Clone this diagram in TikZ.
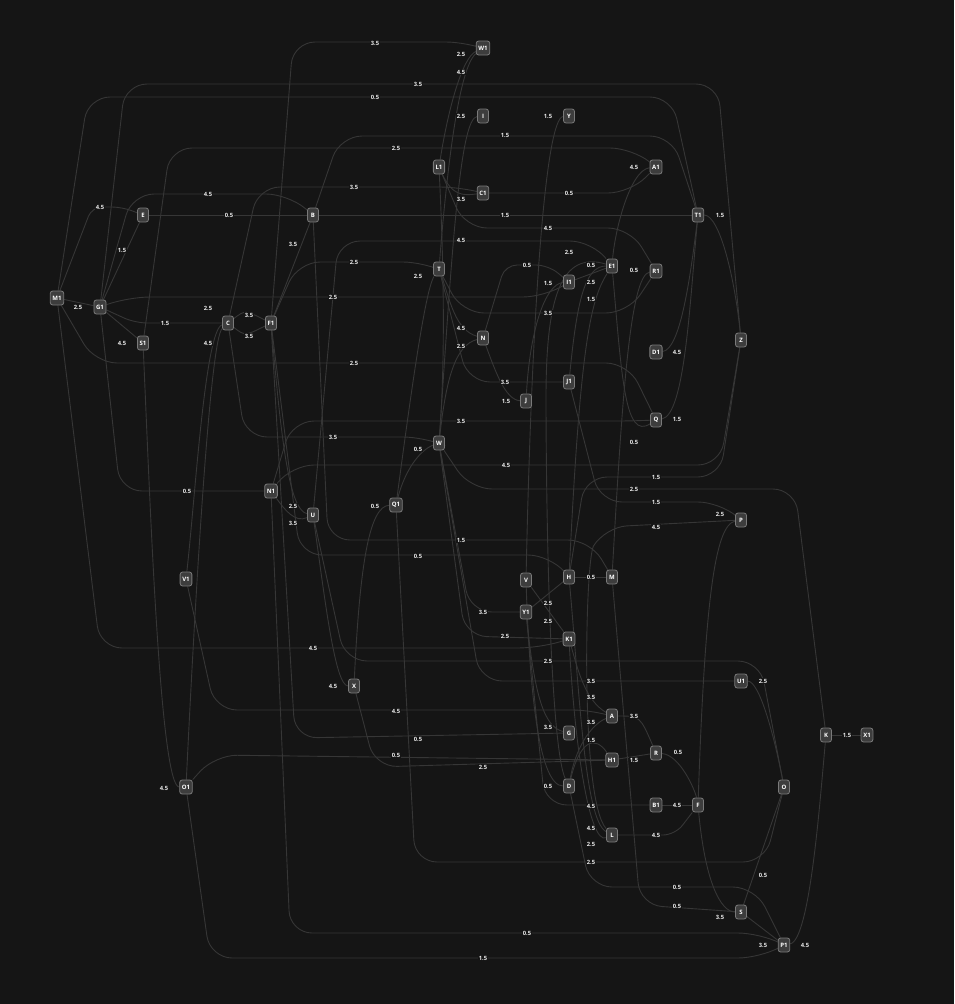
\documentclass[tikz,border=0pt]{standalone}
\usepackage{fontspec}
\setmainfont{Open Sans}
\setsansfont{Open Sans}
\definecolor{bgc}{HTML}{151515}
\definecolor{edc}{HTML}{363636}
\definecolor{ndf}{HTML}{3D3D3D}
\definecolor{ndb}{HTML}{7A7A7A}
\definecolor{lbt}{HTML}{ECECEC}
\pgfdeclarelayer{backfill}
\pgfdeclarelayer{edgelayer}
\pgfsetlayers{backfill,edgelayer,main}
\newcounter{lbc}
\newcommand\lbl[2]{\stepcounter{lbc}\node[lb] (lb\arabic{lbc}) at (#1) {#2};}
\tikzset{
  nd/.style={draw=ndb, fill=ndf, rounded corners=2.5pt, line width=0.8pt, text=white,
    font=\sffamily\bfseries\fontsize{6}{6}\selectfont, minimum height=14pt, minimum width=11pt,
    inner xsep=2.2pt, inner ysep=1pt},
  ed/.style={draw=edc, line width=0.9pt, rounded corners=22pt},
  lb/.style={text=lbt, font=\sffamily\bfseries\fontsize{5.8}{6}\selectfont, fill=bgc, inner sep=0.5pt},
}
\begin{document}
\begin{tikzpicture}[x=1pt,y=-1pt]
\begin{pgfonlayer}{backfill}
\fill[bgc] (0,0) rectangle (954,1004);
\end{pgfonlayer}
\useasboundingbox (0,0) rectangle (954,1004);
% nodes
\node[nd] (M1) at (57,298) {M1};
\node[nd] (G1) at (100,307) {G1};
\node[nd] (E) at (143,215) {E};
\node[nd] (S1) at (143,343) {S1};
\node[nd] (C) at (228,323) {C};
\node[nd] (F1) at (271,323) {F1};
\node[nd] (B) at (313,215) {B};
\node[nd] (W1) at (483,48) {W1};
\node[nd] (I) at (483,116) {I};
\node[nd] (Y) at (569,116) {Y};
\node[nd] (L1) at (439,167) {L1};
\node[nd] (C1) at (483,193) {C1};
\node[nd] (A1) at (656,167) {A1};
\node[nd] (T1) at (698,215) {T1};
\node[nd] (T) at (439,269) {T};
\node[nd] (E1) at (612,266) {E1};
\node[nd] (R1) at (656,271) {R1};
\node[nd] (I1) at (569,282) {I1};
\node[nd] (N) at (483,338) {N};
\node[nd] (D1) at (656,352) {D1};
\node[nd] (Z) at (741,340) {Z};
\node[nd] (J1) at (569,382) {J1};
\node[nd] (J) at (526,401) {J};
\node[nd] (Q) at (656,420) {Q};
\node[nd] (W) at (439,443) {W};
\node[nd] (N1) at (271,491) {N1};
\node[nd] (U) at (313,515) {U};
\node[nd] (Q1) at (396,505) {Q1};
\node[nd] (P) at (741,520) {P};
\node[nd] (V1) at (186,579) {V1};
\node[nd] (V) at (526,580) {V};
\node[nd] (H) at (569,577) {H};
\node[nd] (M) at (612,577) {M};
\node[nd] (Y1) at (526,612) {Y1};
\node[nd] (K1) at (569,639) {K1};
\node[nd] (X) at (354,686) {X};
\node[nd] (U1) at (741,681) {U1};
\node[nd] (A) at (612,716) {A};
\node[nd] (G) at (569,733) {G};
\node[nd] (R) at (656,753) {R};
\node[nd] (H1) at (612,760) {H1};
\node[nd] (K) at (826,735) {K};
\node[nd] (X1) at (867,735) {X1};
\node[nd] (O1) at (186,787) {O1};
\node[nd] (D) at (569,786) {D};
\node[nd] (O) at (784,787) {O};
\node[nd] (B1) at (656,805) {B1};
\node[nd] (F) at (698,805) {F};
\node[nd] (L) at (612,835) {L};
\node[nd] (S) at (741,912) {S};
\node[nd] (P1) at (784,945) {P1};
% edges
\begin{pgfonlayer}{edgelayer}
\draw[ed] (F1) -- (293,42) -- (468,42) -- (W1);
\draw[ed] (W1) .. controls (462,58) and (448,110) .. (L1);
\draw[ed] (W1) .. controls (458,68) and (446,180) .. (T);
\draw[ed] (G1) -- (125,84) -- (718,84) -- (Z);
\draw[ed] (M1) -- (88,97) -- (672,97) -- (T1);
\draw[ed] (I) .. controls (460,118) and (452,250) .. (W);
\draw[ed] (Y) .. controls (546,118) and (532,300) .. (V);
\draw[ed] (B) -- (340,136) -- (672,136) -- (T1);
\draw[ed] (S1) -- (170,148) -- (632,148) -- (A1);
\draw[ed] (C) -- (258,187) -- (462,187) -- (C1);
\draw[ed] (G1) -- (132,194) -- (288,194) -- (B);
\draw[ed] (E) -- (B);
\draw[ed] (B) -- (T1);
\draw[ed, rounded corners=10pt] (M1) -- (92,207) -- (122,207) -- (E);
\draw[ed] (G1) -- (E);
\draw[ed] (L1) .. controls (452,195) and (462,196) .. (C1);
\draw[ed] (L1) -- (465,228) -- (630,228) -- (R1);
\draw[ed] (C1) -- (630,193) -- (A1);
\draw[ed] (U) -- (338,241) -- (592,241) -- (E1);
\draw[ed] (F1) -- (298,262) -- (425,262) -- (T);
\draw[ed] (F1) -- (B);
\draw[ed, rounded corners=12pt] (N) -- (505,265) -- (548,265) -- (I1);
\draw[ed] (E1) .. controls (560,250) and (546,300) .. (546,420) .. controls (548,650) and (556,760) .. (D);
\draw[ed] (I1) -- (E1);
\draw[ed] (J1) .. controls (577,300) and (585,266) .. (E1);
\draw[ed] (E1) .. controls (590,300) and (580,350) .. (H);
\draw[ed] (I1) .. controls (545,284) and (530,330) .. (J);
\draw[ed] (G1) -- (128,297) -- (545,297) -- (I1);
\draw[ed] (T) -- (462,313) -- (628,313) -- (R1);
\draw[ed] (T) .. controls (450,300) and (455,330) .. (N);
\draw[ed] (N) .. controls (455,345) and (446,380) .. (W);
\draw[ed] (N) .. controls (495,370) and (505,400) .. (J);
\draw[ed] (T) -- (468,382) -- (J1);
\draw[ed] (T) .. controls (425,290) and (410,400) .. (Q1);
\draw[ed] (L1) .. controls (443,250) and (446,350) .. (W);
\draw[ed] (M1) -- (95,363) -- (628,363) -- (Q);
\draw[ed] (M1) -- (100,648) -- (540,648) -- (K1);
\draw[ed] (T1) .. controls (720,215) and (735,280) .. (Z);
\draw[ed] (T1) .. controls (690,280) and (680,350) .. (D1);
\draw[ed] (T1) .. controls (690,300) and (685,415) .. (Q);
\draw[ed] (E1) .. controls (622,380) and (625,440) .. (Q);
\draw[ed] (R1) .. controls (630,275) and (622,400) .. (M);
\draw[ed] (A1) .. controls (630,170) and (615,230) .. (E1);
\draw[ed] (J1) -- (600,502) -- (720,502) -- (P);
\draw[ed] (H) -- (585,477) -- (720,477) -- (Z);
\draw[ed] (W) -- (470,489) -- (795,489) -- (K);
\draw[ed] (N1) -- (292,465) -- (720,465) -- (Z);
\draw[ed] (N1) -- (292,421) -- (640,421) -- (Q);
\draw[ed] (C) -- (245,437) -- (425,437) -- (W);
\draw[ed] (G1) -- (120,491) -- (N1);
\draw[ed] (Q1) .. controls (405,470) and (420,450) .. (W);
\draw[ed] (X) .. controls (360,560) and (370,506) .. (Q1);
\draw[ed] (F1) .. controls (282,450) and (290,510) .. (U);
\draw[ed] (N1) .. controls (285,510) and (295,523) .. (U);
\draw[ed] (B) -- (328,540) -- (590,540) -- (M);
\draw[ed] (F1) -- (300,555) -- (550,555) -- (H);
\draw[ed] (P) .. controls (715,525) and (705,600) .. (F);
\draw[ed] (H) -- (M);
\draw[ed] (H) -- (Y1);
\draw[ed] (V) -- (K1);
\draw[ed] (W) -- (470,612) -- (Y1);
\draw[ed] (W) -- (465,636) -- (K1);
\draw[ed] (U) -- (345,661) -- (760,661) -- (O);
\draw[ed] (W) -- (480,681) -- (U1);
\draw[ed] (U) .. controls (325,600) and (335,686) .. (X);
\draw[ed] (U1) .. controls (760,681) and (775,740) .. (O);
\draw[ed] (V1) -- (215,710) -- (595,710) -- (A);
\draw[ed] (A) .. controls (640,716) .. (R);
\draw[ed] (F1) -- (295,738) -- (G);
\draw[ed] (C) .. controls (205,330) and (195,500) .. (V1);
\draw[ed] (C) .. controls (210,340) and (195,600) .. (O1);
\draw[ed] (S1) .. controls (150,500) and (160,787) .. (O1);
\draw[ed] (O1) -- (215,755) -- (H1);
\draw[ed] (X) -- (375,767) -- (H1);
\draw[ed] (R) -- (H1);
\draw[ed] (R) .. controls (680,755) and (695,790) .. (F);
\draw[ed] (K) -- (X1);
\draw[ed] (B1) -- (F);
\draw[ed] (Y1) -- (545,805) -- (B1);
\draw[ed, rounded corners=12pt] (L) -- (675,835) -- (F);
\draw[ed] (Q1) -- (415,862) -- (765,862) -- (O);
\draw[ed] (D) -- (590,887) -- (755,887) -- (P1);
\draw[ed] (M) -- (640,905) -- (S);
\draw[ed] (F) .. controls (705,880) and (720,912) .. (S);
\draw[ed] (S) -- (O);
\draw[ed] (S) -- (P1);
\draw[ed] (N1) -- (290,933) -- (760,933) -- (P1);
\draw[ed] (O1) -- (210,958) -- (760,958) -- (P1);
\draw[ed] (P1) .. controls (810,940) and (820,800) .. (K);
\draw[ed] (G1) -- (S1);
\draw[ed] (M1) -- (G1);
\draw[ed, rounded corners=12pt] (G1) -- (135,323) -- (C);
\draw[ed] (C) .. controls (245,310) .. (F1);
\draw[ed] (C) .. controls (245,336) .. (F1);
\draw[ed] (K1) .. controls (578,670) and (585,700) .. (A);
\draw[ed] (D) .. controls (575,750) and (590,725) .. (A);
\draw[ed] (D) .. controls (580,740) and (595,735) .. (H1);
\draw[ed] (H) .. controls (580,700) and (585,820) .. (L);
\draw[ed] (K1) .. controls (575,750) and (590,845) .. (L);
\draw[ed] (P) -- (605,527) .. controls (585,560) and (580,800) .. (L);
\draw[ed] (Y1) .. controls (535,700) and (545,727) .. (G);
\draw[ed] (V) .. controls (530,700) and (540,786) .. (D);
\end{pgfonlayer}
% labels
\lbl{375,43}{3.5}
\lbl{461,54}{2.5}
\lbl{461,72}{4.5}
\lbl{418,84}{3.5}
\lbl{375,97}{0.5}
\lbl{461,116}{2.5}
\lbl{548,116}{1.5}
\lbl{505,135}{1.5}
\lbl{396,148}{2.5}
\lbl{354,187}{3.5}
\lbl{208,194}{4.5}
\lbl{229,215}{0.5}
\lbl{505,215}{1.5}
\lbl{100,207}{4.5}
\lbl{122,250}{1.5}
\lbl{461,199}{3.5}
\lbl{548,228}{4.5}
\lbl{569,193}{0.5}
\lbl{634,167}{4.5}
\lbl{461,240}{4.5}
\lbl{354,262}{2.5}
\lbl{293,244}{3.5}
\lbl{527,265}{0.5}
\lbl{569,252}{2.5}
\lbl{591,282}{2.5}
\lbl{591,265}{0.5}
\lbl{591,299}{1.5}
\lbl{548,283}{1.5}
\lbl{333,297}{2.5}
\lbl{548,313}{3.5}
\lbl{461,328}{4.5}
\lbl{461,346}{2.5}
\lbl{506,401}{1.5}
\lbl{505,382}{3.5}
\lbl{418,276}{2.5}
\lbl{354,363}{2.5}
\lbl{313,648}{4.5}
\lbl{720,215}{1.5}
\lbl{677,352}{4.5}
\lbl{677,419}{1.5}
\lbl{634,442}{0.5}
\lbl{634,270}{0.5}
\lbl{656,502}{1.5}
\lbl{656,477}{1.5}
\lbl{634,489}{2.5}
\lbl{506,465}{4.5}
\lbl{461,421}{3.5}
\lbl{333,437}{3.5}
\lbl{187,491}{0.5}
\lbl{418,449}{0.5}
\lbl{375,506}{0.5}
\lbl{293,506}{2.5}
\lbl{293,523}{3.5}
\lbl{461,540}{1.5}
\lbl{418,556}{0.5}
\lbl{720,514}{2.5}
\lbl{656,527}{4.5}
\lbl{591,577}{0.5}
\lbl{548,603}{2.5}
\lbl{548,621}{2.5}
\lbl{483,612}{3.5}
\lbl{505,636}{2.5}
\lbl{548,661}{2.5}
\lbl{591,681}{3.5}
\lbl{333,686}{4.5}
\lbl{763,681}{2.5}
\lbl{396,711}{4.5}
\lbl{634,716}{3.5}
\lbl{418,739}{0.5}
\lbl{208,308}{2.5}
\lbl{208,343}{4.5}
\lbl{164,788}{4.5}
\lbl{396,755}{0.5}
\lbl{483,767}{2.5}
\lbl{634,760}{1.5}
\lbl{678,752}{0.5}
\lbl{847,735}{1.5}
\lbl{677,805}{4.5}
\lbl{591,806}{4.5}
\lbl{656,835}{4.5}
\lbl{591,862}{2.5}
\lbl{677,887}{0.5}
\lbl{677,906}{0.5}
\lbl{720,917}{3.5}
\lbl{763,875}{0.5}
\lbl{763,945}{3.5}
\lbl{527,933}{0.5}
\lbl{483,958}{1.5}
\lbl{805,945}{4.5}
\lbl{122,343}{4.5}
\lbl{78,307}{2.5}
\lbl{165,323}{1.5}
\lbl{249,315}{3.5}
\lbl{249,336}{3.5}
\lbl{591,697}{3.5}
\lbl{591,722}{3.5}
\lbl{591,740}{1.5}
\lbl{591,828}{4.5}
\lbl{591,844}{2.5}
\lbl{548,727}{3.5}
\lbl{548,786}{0.5}
\end{tikzpicture}
\end{document}
